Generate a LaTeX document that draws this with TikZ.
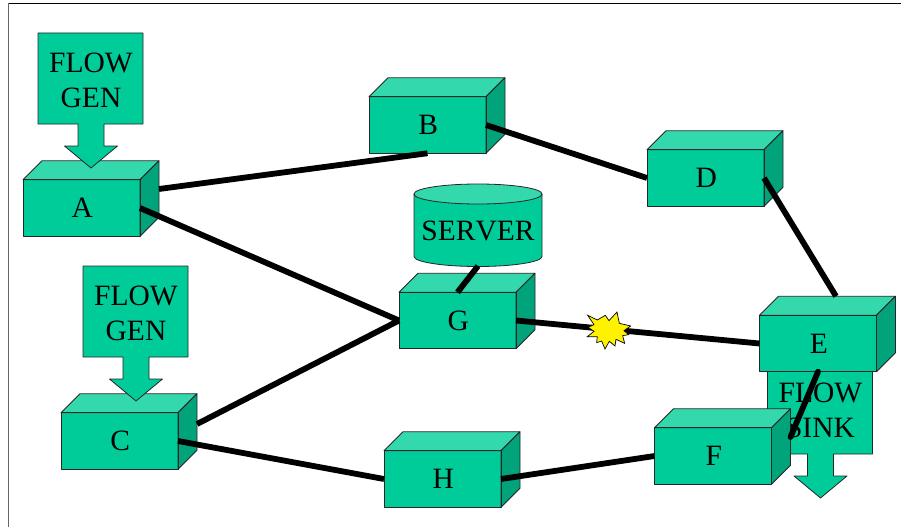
\documentclass[tikz,border=0pt]{standalone}
\usepackage{fontspec}
\setmainfont[Kerning=Off]{Liberation Serif}
\usetikzlibrary{calc}
\definecolor{frontc}{HTML}{00CC99}
\definecolor{topc}{HTML}{33D9AD}
\definecolor{sidec}{HTML}{00A37A}
\tikzset{
  boxlabel/.style={minimum width=117pt,minimum height=56.5pt,inner sep=0pt,outer sep=0pt,font=\fontsize{29.5}{35}\selectfont},
  face/.style={draw=black!85,line width=0.8pt,line join=round},
  flowlabel/.style={align=center,inner sep=0pt,outer sep=0pt,font=\fontsize{29.5}{35.5}\selectfont},
  link/.style={line width=5.8pt,black},
  frame/.style={line width=0.8pt}
}
% \solidbox{name}{centre x}{centre y}{label}
\newcommand{\solidbox}[4]{%
  \fill[frontc] (#2-58.5,#3-28.25) rectangle (#2+58.5,#3+28.25);
  \draw[face,fill=topc] (#2-58.5,#3-28.25) -- (#2-39.5,#3-47.25) -- (#2+77.5,#3-47.25) -- (#2+58.5,#3-28.25) -- cycle;
  \draw[face,fill=sidec] (#2+58.5,#3-28.25) -- (#2+77.5,#3-47.25) -- (#2+77.5,#3+9.25) -- (#2+58.5,#3+28.25) -- cycle;
  \draw[face] (#2-58.5,#3-28.25) rectangle (#2+58.5,#3+28.25);
  \node[boxlabel] (#1) at (#2,#3) {\hspace{1.5pt}#4};%
}
% \flowshape{name}{left x}{top y}{line 1}{line 2}
\newcommand{\flowshape}[5]{%
  \draw[face,fill=frontc] (#2,#3) -- (#2+105,#3) -- (#2+105,#3+91) -- (#2+66,#3+91) -- (#2+66,#3+113) -- (#2+79.5,#3+113) -- (#2+53,#3+135) -- (#2+26.5,#3+113) -- (#2+40,#3+113) -- (#2+40,#3+91) -- (#2,#3+91) -- cycle;
  \node[flowlabel] (#1) at (#2+53,#3+47.5) {#4\\#5};%
}
\begin{document}
\begin{tikzpicture}[x=1pt,y=-1pt]
\useasboundingbox (0,0) rectangle (901,527);
\fill[white] (0,0) rectangle (901,527);
\draw[frame,black] (8,3.5) -- (901,3.5);
\draw[frame,black!60] (8,3.5) -- (8,527);

% lower layer shapes
\flowshape{sink}{767.5}{363}{FLOW}{SINK}

\solidbox{A}{81.5}{208}{A}
\solidbox{B}{427.5}{125}{B}
\solidbox{C}{119.5}{441}{C}
\solidbox{D}{705.5}{178}{D}
\solidbox{G}{457.5}{320.5}{G}
\solidbox{H}{442.5}{479}{H}
\solidbox{E}{818}{343.5}{E}
\solidbox{F}{713}{456}{F}

\flowshape{genA}{38}{33}{FLOW}{GEN}
\flowshape{genC}{83}{266}{FLOW}{GEN}

% server
\draw[face,fill=frontc] (414,194) -- (414,256.5) .. controls (414,262) and (443,266.5) .. (478,266.5) .. controls (513,266.5) and (542,262) .. (542,256.5) -- (542,194) -- cycle;
\draw[face,fill=topc] (478,194) ellipse[x radius=64,y radius=10];
\node[flowlabel] (server) at (478,231) {SERVER};
\coordinate (serverBase) at (478,266);

% connectors
\draw[link] ($(A.east)+(19,-19)$) -- (B.south);
\draw[link] (A.east) -- (G.west);
\draw[link] (B.east) -- (D.west);
\draw[link] (D.east) -- ($(E.north)+(18,-19)$);
\draw[link] (G.north) -- (serverBase);
\draw[link] (G.east) -- (E.west);
\draw[link] ($(C.east)+(19,-17)$) -- (G.west);
\draw[link] (C.east) -- (H.west);
\draw[link] (H.east) -- (F.west);
\draw[link,line cap=round] (E.south) -- ($(F.east)+(19,-19)$);

% break marker
\node[inner sep=0pt,outer sep=0pt,minimum size=0pt] (fault) at (608,330) {};
\draw[black,line width=0.7pt,fill=yellow,line join=miter,shift={(390,170)},x=0.3333pt,y=-0.3333pt]
 (593,436) -- (622,450) -- (646,436) -- (657,452) -- (681,426) -- (688,460) -- (722,468) -- (702,482) -- (716,494) -- (698,497) -- (704,520) -- (678,508) -- (675,528) -- (658,514) -- (645,537) -- (635,513) -- (620,518) -- (622,500) -- (592,500) -- (612,484) -- (594,472) -- (612,464) -- cycle;
\end{tikzpicture}
\end{document}
